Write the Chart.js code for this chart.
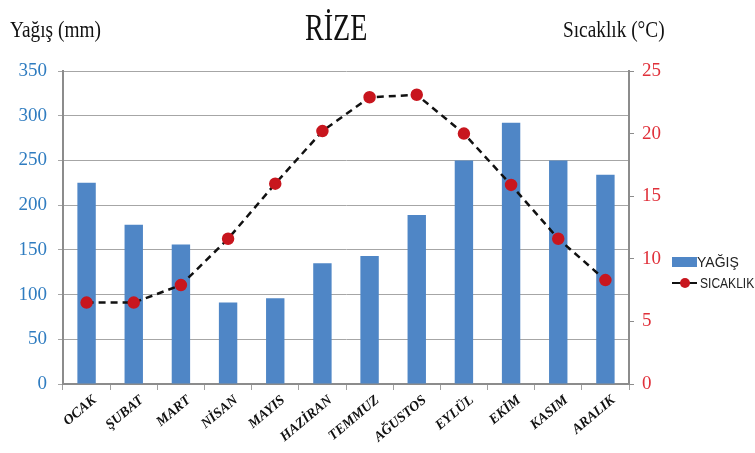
<!DOCTYPE html>
<html lang="tr">
<head>
  <meta charset="UTF-8">
  <title>Rize – Yağış ve Sıcaklık</title>
  <script src="https://cdn.jsdelivr.net/npm/chart.js"></script>
  <style>
    body { margin:0; background:#fff; width:755px; height:453px; overflow:hidden; position:relative; }
    canvas { position:absolute; left:0; top:0; }
    .lbl { position:absolute; font-family:"Liberation Serif", serif; color:#111; white-space:nowrap; transform-origin:left top; }
    .legend { position:absolute; font-family:"Liberation Sans", Arial, sans-serif; font-size:14px; color:#222; white-space:nowrap; }
    .narrow { display:inline-block; transform:scaleX(0.86); transform-origin:left center; vertical-align:middle; }
  </style>
</head>
<body>
  <canvas id="c" width="755" height="453"></canvas>
  <div class="lbl" style="left:10px; top:17px; font-size:23px; transform:scaleX(0.84);">Yağış (mm)</div>
  <div class="lbl" style="left:305px; top:5px; font-size:38px; transform:scaleX(0.74);">RİZE</div>
  <div class="lbl" style="left:563px; top:17px; font-size:23px; transform:scaleX(0.84);">Sıcaklık (°C)</div>

  <div class="legend" style="left:672px; top:253px;">
    <span style="display:inline-block; width:25px; height:10px; background:#4f86c6; vertical-align:middle;"></span><span style="vertical-align:middle;">YAĞIŞ</span>
  </div>
  <div class="legend" style="left:672px; top:274px;">
    <span style="display:inline-block; position:relative; width:25px; height:10px; vertical-align:middle;">
      <span style="position:absolute; left:0; top:4px; width:25px; height:2px; background:#111;"></span>
      <span style="position:absolute; left:8px; top:0; width:10px; height:10px; border-radius:50%; background:#c8161e;"></span>
    </span><span class="narrow" style="margin-left:3px;">SICAKLIK</span>
  </div>

<script>
// data
const months = ['OCAK','ŞUBAT','MART','NİSAN','MAYIS','HAZİRAN','TEMMUZ','AĞUSTOS','EYLÜL','EKİM','KASIM','ARALIK'];
const rain = [225, 178, 156, 91, 96, 135, 143, 189, 250, 292, 250, 234];   // mm
const temp = [6.5, 6.5, 7.9, 11.6, 16.0, 20.2, 22.9, 23.1, 20.0, 15.9, 11.6, 8.3]; // °C

const axisGray = '#8c8c8c';

new Chart(document.getElementById('c'), {
  data: {
    labels: months,
    datasets: [
      {
        type: 'line', label: 'SICAKLIK', data: temp, yAxisID: 'yT',
        borderColor: '#111', borderWidth: 2.5, borderDash: [7,5],
        pointBackgroundColor: '#c8161e', pointBorderColor: '#c8161e',
        pointRadius: 5, tension: 0, order: 0
      },
      {
        type: 'bar', label: 'YAĞIŞ', data: rain, yAxisID: 'yR',
        backgroundColor: '#4f86c6', barPercentage: 0.39, categoryPercentage: 1, order: 1
      }
    ]
  },
  options: {
    responsive: false,
    animation: false,
    layout: { padding: { top: 71, left: 0, right: 0, bottom: 0 } },
    plugins: { legend: { display: false }, tooltip: { enabled: false } },
    scales: {
      x: {
        offset: true,
        afterFit: s => { s.height = 69; },
        grid: { offset: true, drawOnChartArea: false, tickLength: 6, color: '#a0a0a0' },
        border: { color: axisGray, width: 2 },
        ticks: {
          minRotation: 40, maxRotation: 40, labelOffset: 8, padding: 2,
          color: '#111', font: { family: 'Liberation Serif', size: 14, style: 'italic', weight: 'bold' }
        }
      },
      yR: {
        position: 'left', min: 0, max: 350,
        afterFit: s => { s.width = 63; },
        grid: { color: '#a6a6a6', lineWidth: 1, tickLength: 5 },
        border: { color: axisGray, width: 2 },
        ticks: { stepSize: 50, padding: 11, color: '#2f7cc0', font: { family: 'Liberation Serif', size: 19 } }
      },
      yT: {
        position: 'right', min: 0, max: 25,
        afterFit: s => { s.width = 126; },
        grid: { drawOnChartArea: false, tickLength: 5, color: axisGray },
        border: { color: axisGray, width: 2 },
        ticks: { stepSize: 5, padding: 8, color: '#e0303a', font: { family: 'Liberation Serif', size: 19 } }
      }
    }
  }
});
</script>
</body>
</html>
